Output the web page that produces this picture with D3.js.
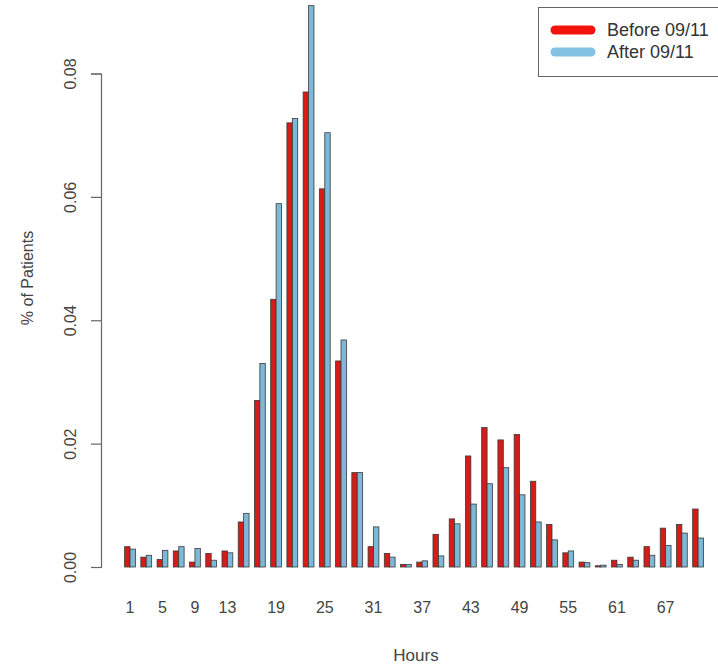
<!DOCTYPE html>
<html>
<head>
<meta charset="utf-8">
<script src="https://cdn.jsdelivr.net/npm/d3@7"></script>
<style>
  body { margin: 0; background: #fff; }
  text { font-family: "Liberation Sans", Arial, Helvetica, sans-serif; }
</style>
</head>
<body>
<div class="chart"></div>
<script>
var hours = d3.range(1, 72, 2);
var before = [0.0033, 0.0016, 0.0012, 0.0026, 0.0008, 0.0022, 0.0026, 0.0073, 0.0270, 0.0434,
  0.0720, 0.0770, 0.0613, 0.0334, 0.0153, 0.0033, 0.0022, 0.0004, 0.0008, 0.0053,
  0.0078, 0.0180, 0.0226, 0.0206, 0.0215, 0.0139, 0.0069, 0.0023, 0.0008, 0.0002,
  0.0011, 0.0016, 0.0033, 0.0063, 0.0069, 0.0094];
var after = [0.0029, 0.0019, 0.0027, 0.0033, 0.0030, 0.0011, 0.0023, 0.0087, 0.0330, 0.0589,
  0.0727, 0.0910, 0.0704, 0.0368, 0.0153, 0.0065, 0.0016, 0.0004, 0.0010, 0.0018,
  0.0070, 0.0102, 0.0135, 0.0161, 0.0117, 0.0073, 0.0044, 0.0026, 0.0007, 0.0003,
  0.0004, 0.0011, 0.0019, 0.0035, 0.0055, 0.0047];
var series = ["Before 09/11", "After 09/11"];
var xLabels = [1, 5, 9, 13, 19, 25, 31, 37, 43, 49, 55, 61, 67];
var yTicks = [0, 0.02, 0.04, 0.06, 0.08];

var width = 718, height = 670;
var barFill = ["#d41d18", "#7db8d6"];
var legendFill = ["#f2140c", "#82c3e4"];

var svg = d3.select(".chart")
  .append("svg")
  .attr("width", width)
  .attr("height", height);

var x0 = d3.scaleBand()
  .domain(hours)
  .range([121.9, 706.2])
  .paddingInner(1 / 3)
  .paddingOuter(1 / 6);

var x1 = d3.scaleBand()
  .domain(series)
  .range([0, x0.bandwidth()]);

var y = d3.scaleLinear()
  .domain([0, 0.08])
  .range([567, 73.5]);

var rows = hours.map((h, i) => ({ hour: h, values: [before[i], after[i]] }));

// bars, two per hour
svg.append("g")
  .selectAll("g")
  .data(rows)
  .enter().append("g")
  .attr("transform", d => "translate(" + x0(d.hour) + ",0)")
  .selectAll("rect")
  .data(d => d.values.map((v, j) => ({ key: series[j], value: v, j: j })))
  .enter().append("rect")
  .attr("x", d => x1(d.key))
  .attr("y", d => y(d.value))
  .attr("width", x1.bandwidth())
  .attr("height", d => y(0) - y(d.value))
  .style("fill", d => barFill[d.j])
  .style("stroke", "#3a3a3a")
  .style("stroke-width", 0.8);

// y axis
var yAxis = svg.append("g")
  .attr("transform", "translate(101,0)")
  .call(d3.axisLeft(y).tickValues(yTicks).tickFormat(d3.format(".2f")).tickSize(10).tickPadding(0));
yAxis.select(".domain").attr("stroke", "#666").attr("stroke-width", 1.2);
yAxis.selectAll(".tick line").attr("stroke", "#666").attr("stroke-width", 1.2);
yAxis.selectAll(".tick text").remove();
yAxis.selectAll(".tick")
  .append("text")
  .attr("transform", "translate(-31,0) rotate(-90)")
  .attr("text-anchor", "middle")
  .attr("dy", "0.35em")
  .style("fill", "#444")
  .style("font-size", "16px")
  .text(d => d3.format(".2f")(d));

// x labels (only the ones R kept)
svg.append("g")
  .selectAll("text")
  .data(xLabels)
  .enter().append("text")
  .attr("x", d => x0(d) + x0.bandwidth() / 2)
  .attr("y", 613)
  .attr("text-anchor", "middle")
  .style("fill", "#444")
  .style("font-size", "16px")
  .text(d => d);

svg.append("text")
  .attr("x", 416)
  .attr("y", 661)
  .attr("text-anchor", "middle")
  .style("fill", "#444")
  .style("font-size", "17px")
  .text("Hours");

svg.append("text")
  .attr("transform", "translate(27,278) rotate(-90)")
  .attr("text-anchor", "middle")
  .attr("dy", "0.35em")
  .style("fill", "#444")
  .style("font-size", "16px")
  .text("% of Patients");

// legend
var legend = svg.append("g").attr("class", "legend");
legend.append("rect")
  .attr("x", 538.5)
  .attr("y", 7.5)
  .attr("width", 190)
  .attr("height", 69)
  .style("fill", "#fff")
  .style("stroke", "#666")
  .style("stroke-width", 1);
legend.selectAll("line")
  .data(series)
  .enter().append("line")
  .attr("x1", 555)
  .attr("x2", 591)
  .attr("y1", (d, i) => 30 + i * 22)
  .attr("y2", (d, i) => 30 + i * 22)
  .style("stroke", (d, i) => legendFill[i])
  .style("stroke-width", 9)
  .style("stroke-linecap", "round");
legend.selectAll("text")
  .data(series)
  .enter().append("text")
  .attr("x", 607)
  .attr("y", (d, i) => 30 + i * 22)
  .attr("dy", "0.35em")
  .style("fill", "#333")
  .style("font-size", "18px")
  .text(d => d);
</script>
</body>
</html>
